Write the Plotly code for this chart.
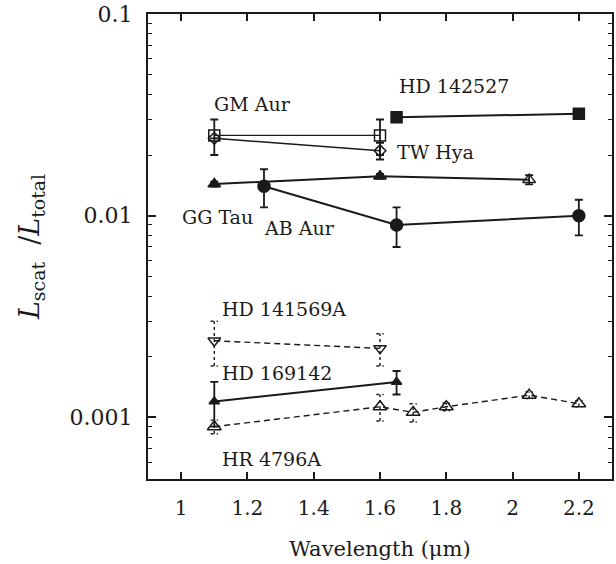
import plotly.graph_objects as go

# ---- data ----
gm_x = [1.1, 1.6]
gm_y = [0.025, 0.025]
gm_e = [0.005, 0.005]

tw_x = [1.1, 1.6]
tw_y = [0.0242, 0.021]
tw_e = [0.0, 0.002]

hd142_x = [1.65, 2.2]
hd142_y = [0.0308, 0.032]
hd142_e = [0.001, 0.001]

gg_x = [1.1, 1.6, 2.05]
gg_y = [0.01435, 0.0157, 0.0151]
gg_e = [0.0004, 0.0004, 0.0008]

ab_x = [1.25, 1.65, 2.2]
ab_y = [0.014, 0.009, 0.010]
ab_e = [0.003, 0.002, 0.002]

hd141_x = [1.1, 1.6]
hd141_y = [0.0024, 0.0022]
hd141_e = [0.0006, 0.0004]

hd169_x = [1.1, 1.65]
hd169_y = [0.0012, 0.0015]
hd169_e = [0.0003, 0.0002]

hr_x = [1.1, 1.6, 1.7, 1.8, 2.05, 2.2]
hr_y = [0.0009, 0.00113, 0.00106, 0.00113, 0.00129, 0.00117]
hr_e = [0.00007, 0.00017, 0.00011, 0.00005, 0.00005, 0.00004]

labels = ["HD 142527", "GM Aur", "TW Hya", "GG Tau", "AB Aur",
          "HD 141569A", "HD 169142", "HR 4796A"]
label_x = [1.822, 1.215, 1.768, 1.111, 1.356, 1.311, 1.29, 1.272]
label_logy = [-1.356, -1.444, -1.686, -2.007, -2.062, -2.462, -2.778, -3.207]

xticks = [1, 1.2, 1.4, 1.6, 1.8, 2, 2.2]
xticktext = ["1", "1.2", "1.4", "1.6", "1.8", "2", "2.2"]
yticks = [0.001, 0.01, 0.1]
yticktext = ["0.001", "0.01", "0.1"]

INK = "#1a1a1a"
FONT = "DejaVu Serif"
CAP = 0.011  # half cap width for dashed error bars (x units)

fig = go.Figure()

def add(x, y, e, symbol, size, lw, dash="solid", ewidth=4, ethick=1.8, mline=1.5, dashed_err=False):
    if dashed_err:
        ex, ey = [], []
        for xi, yi, ei in zip(x, y, e):
            ex += [xi, xi, None, xi - CAP, xi + CAP, None, xi - CAP, xi + CAP, None]
            ey += [yi - ei, yi + ei, None, yi - ei, yi - ei, None, yi + ei, yi + ei, None]
        fig.add_trace(go.Scatter(x=ex, y=ey, mode="lines",
                                 line=dict(color=INK, width=1.4, dash="3px,3px"),
                                 showlegend=False, hoverinfo="skip"))
        err = None
    else:
        err = dict(type="data", array=e, visible=True, color=INK,
                   thickness=ethick, width=ewidth)
    fig.add_trace(go.Scatter(
        x=x, y=y, mode="lines+markers",
        line=dict(color=INK, width=lw, dash=dash),
        marker=dict(symbol=symbol, size=size, color=INK,
                    line=dict(color=INK, width=mline)),
        error_y=err,
        showlegend=False, hoverinfo="skip"))

add(gm_x, gm_y, gm_e, "square-open", 11, 1.2)
add(tw_x, tw_y, tw_e, "diamond-open", 9, 1.6)
add(hd142_x, hd142_y, hd142_e, "square", 11, 2)
add(gg_x, gg_y, gg_e, ["triangle-up", "triangle-up", "triangle-up-open"], 11, 2)
add(ab_x, ab_y, ab_e, "circle", 12, 2)
add(hd141_x, hd141_y, hd141_e, "triangle-down-open", 11, 1.4, dash="6px,4px", dashed_err=True)
add(hd169_x, hd169_y, hd169_e, "triangle-up", 9, 2)
add(hr_x, hr_y, hr_e, "triangle-up-open", 12, 1.4, dash="6px,4px", dashed_err=True)

for t, lx, ly in zip(labels, label_x, label_logy):
    fig.add_annotation(x=lx, y=ly, text=t, showarrow=False,
                       font=dict(family=FONT, size=19, color=INK),
                       xanchor="center", yanchor="middle")

fig.update_xaxes(
    range=[0.9, 2.3], tickvals=xticks, ticktext=xticktext,
    ticks="inside", ticklen=7, tickwidth=1.5, tickcolor=INK,
    showline=True, linecolor=INK, linewidth=2, mirror="allticks",
    showgrid=False, zeroline=False, ticklabelstandoff=10,
    tickfont=dict(family=FONT, size=20, color=INK),
    title=dict(text="Wavelength (μm)", font=dict(family=FONT, size=21, color=INK), standoff=22))

fig.update_yaxes(
    type="log", range=[-3.305, -1], tickvals=yticks, ticktext=yticktext,
    ticks="inside", ticklen=8, tickwidth=1.5, tickcolor=INK,
    minor=dict(ticks="inside", ticklen=4, tickwidth=1.2, tickcolor=INK,
               tickvals=[0.0006, 0.0007, 0.0008, 0.0009,
                         0.002, 0.003, 0.004, 0.005, 0.006, 0.007, 0.008, 0.009,
                         0.02, 0.03, 0.04, 0.05, 0.06, 0.07, 0.08, 0.09]),
    showline=True, linecolor=INK, linewidth=2, mirror="allticks",
    showgrid=False, zeroline=False, ticklabelstandoff=9,
    ticklabeloverflow="allow",
    tickfont=dict(family=FONT, size=22, color=INK),
    title=dict(text="<i>L</i><sub>scat</sub>&nbsp;&nbsp;/<i>L</i><sub>total</sub>",
               font=dict(family=FONT, size=27, color=INK), standoff=22))

fig.update_layout(
    width=616, height=564,
    margin=dict(l=148, r=2, t=12, b=85),
    paper_bgcolor="white", plot_bgcolor="white",
    font=dict(family=FONT, color=INK))

fig.write_html("out.html")
